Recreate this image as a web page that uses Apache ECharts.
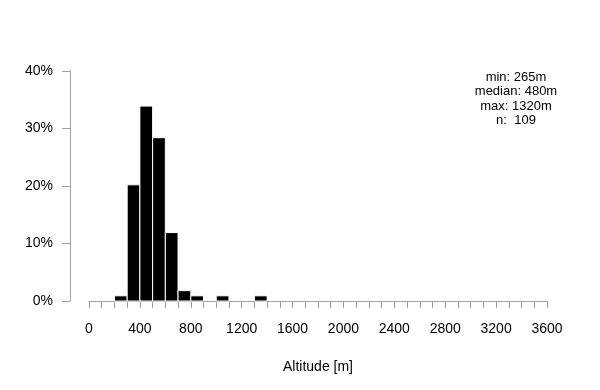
<!DOCTYPE html>
<html>
<head>
<meta charset="utf-8">
<script src="https://cdn.jsdelivr.net/npm/echarts@6/dist/echarts.min.js"></script>
<style>
  html, body { margin: 0; padding: 0; background: #fff; }
  #chart { width: 600px; height: 390px; }
</style>
</head>
<body>
<div id="chart"></div>
<script>
// Histogram bins (lower edge, metres) and share of sites per bin (%)
const binStarts = [200, 300, 400, 500, 600, 700, 800, 900, 1000, 1100, 1200, 1300];
const binShares = [0.9, 20.2, 33.9, 28.4, 11.9, 1.8, 0.9, 0, 0.9, 0, 0, 0.9];
const binWidth = 100;
const statLines = ['min: 265m', 'median: 480m', 'max: 1320m', 'n:  109'];

document.addEventListener('DOMContentLoaded', function() {
    const chart = echarts.init(document.getElementById('chart'));
    const fontFamily = '"Liberation Sans", Arial, sans-serif';
    const axisColor = '#a0a0a0';

    const data = binStarts.map((x, i) => [x, x + binWidth, binShares[i]]);

    const option = {
        animation: false,
        textStyle: { fontFamily: fontFamily },
        // grid 0 only carries the detached y axis, grid 1 holds the bars
        grid: [
            { left: 70, width: 10, top: 71, bottom: 89 },
            { left: 89, right: 53, top: 71, bottom: 89 }
        ],
        xAxis: [{
            gridIndex: 0,
            type: 'value',
            show: false
        }, {
            gridIndex: 1,
            type: 'value',
            min: 0,
            max: 3600,
            interval: 400,
            name: 'Altitude [m]',
            nameLocation: 'middle',
            nameGap: 59,
            nameTextStyle: { color: '#000', fontSize: 14, fontFamily: fontFamily },
            axisLine: { show: true, lineStyle: { color: axisColor, width: 1 } },
            axisTick: { show: true, length: 7, lineStyle: { color: axisColor } },
            minorTick: { show: true, splitNumber: 4, length: 7, lineStyle: { color: axisColor } },
            axisLabel: {
                color: '#000', fontSize: 14, margin: 21, fontFamily: fontFamily,
                formatter: v => String(v)
            },
            splitLine: { show: false }
        }],
        yAxis: [{
            gridIndex: 0,
            type: 'value',
            min: 0,
            max: 40,
            interval: 10,
            axisLine: { show: true, lineStyle: { color: axisColor, width: 1 } },
            axisTick: { show: true, length: 8, lineStyle: { color: axisColor } },
            axisLabel: { color: '#000', fontSize: 14, margin: 17, formatter: '{value}%', fontFamily: fontFamily },
            splitLine: { show: false }
        }, {
            gridIndex: 1,
            type: 'value',
            min: 0,
            max: 40,
            show: false
        }],
        graphic: [{
            type: 'text',
            x: 516,
            y: 70,
            style: {
                text: statLines.join('\n'),
                fill: '#000',
                font: '13px ' + fontFamily,
                textAlign: 'center',
                textVerticalAlign: 'top',
                lineHeight: 14.5
            }
        }],
        series: [{
            type: 'custom',
            xAxisIndex: 1,
            yAxisIndex: 1,
            data: data,
            encode: { x: [0, 1], y: 2 },
            renderItem: function(params, api) {
                const h = api.value(2);
                if (!h) return null;
                const p0 = api.coord([api.value(0), 0]);
                const p1 = api.coord([api.value(1), h]);
                return {
                    type: 'rect',
                    shape: { x: p0[0], y: p1[1], width: p1[0] - p0[0], height: p0[1] - p1[1] },
                    style: { fill: '#000', stroke: '#fff', lineWidth: 1 }
                };
            }
        }]
    };

    chart.setOption(option);
});
</script>
</body>
</html>
